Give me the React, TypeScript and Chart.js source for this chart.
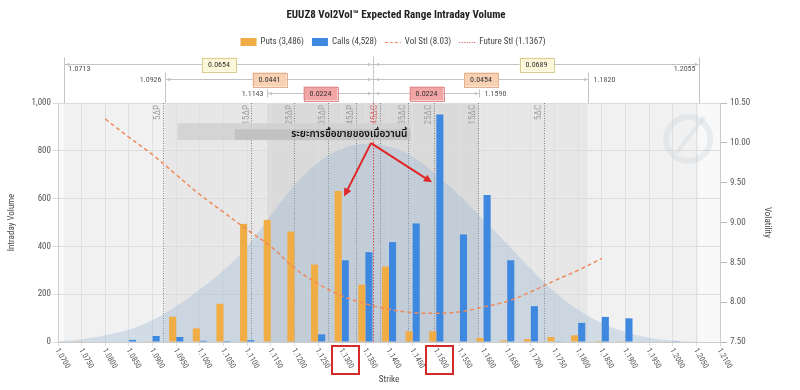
import React, { useEffect, useRef } from 'react';
import { Chart, registerables } from 'chart.js';

Chart.register(...registerables);

const FONT = '"Liberation Sans Narrow", "Roboto Condensed", Roboto, "Liberation Sans", Arial, sans-serif';
const THAI_FONT = '"Noto Sans Thai", "Noto Sans Thai UI", "Noto Sans", "DejaVu Sans", sans-serif';

// ---------------- data ----------------
const chartTitle = 'EUUZ8 Vol2Vol\u2122 Expected Range Intraday Volume';
const strikes = [1.07, 1.075, 1.08, 1.085, 1.09, 1.095, 1.1, 1.105, 1.11, 1.115, 1.12, 1.125, 1.13, 1.135, 1.14, 1.145, 1.15, 1.155, 1.16, 1.165, 1.17, 1.175, 1.18, 1.185, 1.19, 1.195, 1.2, 1.205];
const putVolume = [2, 3, 2, 0, 3, 106, 57, 160, 494, 511, 462, 324, 632, 240, 316, 45, 45, 0, 17, 7, 12, 21, 28, 4, 1, 0, 0, 0];
const callVolume = [0, 0, 0, 9, 25, 21, 5, 4, 8, 2, 2, 32, 342, 376, 418, 496, 952, 450, 615, 342, 150, 3, 80, 105, 99, 2, 3, 0];
const expectedDist = [3, 12, 28, 52, 92, 150, 220, 300, 400, 530, 655, 750, 808, 830, 818, 775, 700, 612, 510, 410, 305, 210, 135, 80, 42, 18, 6, 0];
const volStrikes = [1.08, 1.085, 1.09, 1.095, 1.1, 1.105, 1.11, 1.115, 1.12, 1.125, 1.13, 1.135, 1.14, 1.145, 1.15, 1.155, 1.16, 1.165, 1.17, 1.175, 1.18, 1.185];
const volSmile = [10.3, 10.07, 9.85, 9.6, 9.35, 9.13, 8.91, 8.7, 8.43, 8.23, 8.08, 7.98, 7.91, 7.87, 7.86, 7.88, 7.94, 8.01, 8.13, 8.27, 8.4, 8.55];
const xTickValues = [1.07, 1.075, 1.08, 1.085, 1.09, 1.095, 1.1, 1.105, 1.11, 1.115, 1.12, 1.125, 1.13, 1.135, 1.14, 1.145, 1.15, 1.155, 1.16, 1.165, 1.17, 1.175, 1.18, 1.185, 1.19, 1.195, 1.2, 1.205, 1.21];
const xTickLabels = ['1.0700', '1.0750', '1.0800', '1.0850', '1.0900', '1.0950', '1.1000', '1.1050', '1.1100', '1.1150', '1.1200', '1.1250', '1.1300', '1.1350', '1.1400', '1.1450', '1.1500', '1.1550', '1.1600', '1.1650', '1.1700', '1.1750', '1.1800', '1.1850', '1.1900', '1.1950', '1.2000', '1.2050', '1.2100'];
const highlightStrikes = [1.13, 1.15];

const putsTotal = 3486;
const callsTotal = 4528;
const volStl = 8.03;
const futureStl = 1.1367;

const rangeLow = [1.0713, 1.0926, 1.1143];
const rangeHigh = [1.2055, 1.182, 1.159];
const rangeDown = [0.0654, 0.0441, 0.0224];
const rangeUp = [0.0689, 0.0454, 0.0224];

const deltaLabels = ['5\u0394P', '15\u0394P', '25\u0394P', '35\u0394P', '45\u0394P', '45\u0394C', '35\u0394C', '25\u0394C', '15\u0394C', '5\u0394C'];
const deltaStrikes = [1.0922, 1.1109, 1.12, 1.127, 1.133, 1.1381, 1.144, 1.1495, 1.1588, 1.1728];

const noteText = '\u0E23\u0E30\u0E22\u0E30\u0E01\u0E32\u0E23\u0E0B\u0E37\u0E49\u0E2D\u0E02\u0E32\u0E22\u0E02\u0E2D\u0E07\u0E40\u0E21\u0E37\u0E48\u0E2D\u0E27\u0E32\u0E19\u0E19\u0E35\u0E49';
const noteOuterX = [1.0953, 1.1445];
const noteInnerX = [1.1074, 1.1445];
const noteOuterY = [845, 915];
const noteInnerY = [845, 890];
const noteTextAt = [1.1316, 868];
const arrowFrom = [1.1362, 832];
const arrowTips = [[1.1305, 609], [1.1491, 668]];
const watermarkAt = [1.2033, 849];

// ---------------- styles ----------------
const PUT_COLOR = '#f0ad45';
const CALL_COLOR = '#3f88df';
const VOL_COLOR = '#f08a5d';
const FUT_COLOR = '#d04848';
const bandColors = ['#f1f1f1', '#e7e7e7', '#dadada'];
const boxFill = ['#fdf7d9', '#f8d0b2', '#f2a5a5'];
const boxStroke = ['#d9cc92', '#e6b090', '#e09090'];
const rowY = [64, 79, 93];

function arrowHead(ctx: CanvasRenderingContext2D, x0: number, y0: number, x1: number, y1: number, size: number) {
  const ang = Math.atan2(y1 - y0, x1 - x0);
  ctx.beginPath();
  ctx.moveTo(x1, y1);
  ctx.lineTo(x1 - size * Math.cos(ang - 0.45), y1 - size * Math.sin(ang - 0.45));
  ctx.lineTo(x1 - size * Math.cos(ang + 0.45), y1 - size * Math.sin(ang + 0.45));
  ctx.closePath();
  ctx.fill();
}

const decor = {
  id: 'decor',
  beforeDraw(chart: any) {
    const { ctx, chartArea: a } = chart;
    const x = chart.scales.x;
    ctx.save();
    ctx.fillStyle = '#f9f9f9';
    ctx.fillRect(a.left, a.top, a.right - a.left, a.bottom - a.top);
    for (let i = 0; i < rangeLow.length; i++) {
      const l = x.getPixelForValue(rangeLow[i]);
      const r = x.getPixelForValue(rangeHigh[i]);
      ctx.fillStyle = bandColors[i];
      ctx.fillRect(l, a.top, r - l, a.bottom - a.top);
    }
    ctx.restore();
  },
  beforeDatasetsDraw(chart: any) {
    const { ctx, chartArea: a } = chart;
    const x = chart.scales.x;
    ctx.save();
    ctx.lineWidth = 1;
    ctx.setLineDash([1, 1.5]);
    ctx.strokeStyle = '#808080';
    deltaStrikes.forEach((s) => {
      const px = Math.round(x.getPixelForValue(s)) + 0.5;
      ctx.beginPath();
      ctx.moveTo(px, a.top);
      ctx.lineTo(px, a.bottom);
      ctx.stroke();
    });
    ctx.setLineDash([]);
    ctx.font = `9px ${FONT}`;
    ctx.textAlign = 'right';
    ctx.textBaseline = 'middle';
    deltaLabels.forEach((t, i) => {
      const px = x.getPixelForValue(deltaStrikes[i]);
      ctx.save();
      ctx.translate(px - 5, a.top + 2);
      ctx.rotate(-Math.PI / 2);
      ctx.fillStyle = i === 5 ? '#d88080' : '#a0a0a0';
      ctx.fillText(t, 0, 0);
      ctx.restore();
    });
    ctx.restore();
  },
  afterDatasetsDraw(chart: any) {
    const { ctx, chartArea: a } = chart;
    const x = chart.scales.x;
    const y = chart.scales.y;
    ctx.save();
    ctx.strokeStyle = FUT_COLOR;
    ctx.lineWidth = 1;
    ctx.setLineDash([1.5, 1.5]);
    const fx = Math.round(x.getPixelForValue(futureStl)) + 0.5;
    ctx.beginPath();
    ctx.moveTo(fx, a.top);
    ctx.lineTo(fx, a.bottom);
    ctx.stroke();
    ctx.setLineDash([]);

    const wx = x.getPixelForValue(watermarkAt[0]);
    const wy = y.getPixelForValue(watermarkAt[1]);
    ctx.strokeStyle = 'rgba(195,205,215,0.28)';
    ctx.lineWidth = 6;
    ctx.beginPath();
    ctx.arc(wx, wy, 22, 0, Math.PI * 2);
    ctx.stroke();
    ctx.lineWidth = 4;
    ctx.beginPath();
    ctx.moveTo(wx - 12, wy + 14);
    ctx.lineTo(wx + 16, wy - 22);
    ctx.stroke();

    const ox0 = x.getPixelForValue(noteOuterX[0]);
    const ox1 = x.getPixelForValue(noteOuterX[1]);
    const oy0 = y.getPixelForValue(noteOuterY[1]);
    const oy1 = y.getPixelForValue(noteOuterY[0]);
    ctx.fillStyle = 'rgba(208,208,208,0.85)';
    ctx.fillRect(ox0, oy0, ox1 - ox0, oy1 - oy0);
    const ix0 = x.getPixelForValue(noteInnerX[0]);
    const ix1 = x.getPixelForValue(noteInnerX[1]);
    const iy0 = y.getPixelForValue(noteInnerY[1]);
    const iy1 = y.getPixelForValue(noteInnerY[0]);
    ctx.fillStyle = 'rgba(192,192,192,0.9)';
    ctx.fillRect(ix0, iy0, ix1 - ix0, iy1 - iy0);
    ctx.fillStyle = '#111';
    ctx.font = `600 10px ${THAI_FONT}`;
    ctx.textAlign = 'center';
    ctx.textBaseline = 'middle';
    ctx.fillText(noteText, x.getPixelForValue(noteTextAt[0]), y.getPixelForValue(noteTextAt[1]));

    ctx.strokeStyle = '#e02626';
    ctx.fillStyle = '#e02626';
    ctx.lineWidth = 2;
    const ax = x.getPixelForValue(arrowFrom[0]);
    const ay = y.getPixelForValue(arrowFrom[1]);
    arrowTips.forEach(([sx, sv]) => {
      const tx = x.getPixelForValue(sx);
      const ty = y.getPixelForValue(sv);
      const ang = Math.atan2(ty - ay, tx - ax);
      ctx.beginPath();
      ctx.moveTo(ax, ay);
      ctx.lineTo(tx - 6 * Math.cos(ang), ty - 6 * Math.sin(ang));
      ctx.stroke();
      arrowHead(ctx, ax, ay, tx, ty, 9);
    });
    ctx.restore();
  },
  afterDraw(chart: any) {
    const { ctx, chartArea: a } = chart;
    const x = chart.scales.x;
    ctx.save();

    ctx.fillStyle = '#222';
    ctx.font = `bold 11px ${FONT}`;
    ctx.textAlign = 'center';
    ctx.textBaseline = 'middle';
    ctx.fillText(chartTitle, 396, 15);

    ctx.font = `9px ${FONT}`;
    const items = [
      { kind: 'box', color: PUT_COLOR, text: `Puts (${putsTotal.toLocaleString('en-US')})` },
      { kind: 'box', color: CALL_COLOR, text: `Calls (${callsTotal.toLocaleString('en-US')})` },
      { kind: 'dash', color: VOL_COLOR, text: `Vol Stl (${volStl.toFixed(2)})` },
      { kind: 'dot', color: FUT_COLOR, text: `Future Stl (${futureStl.toFixed(4)})` },
    ];
    const sw = 16, gap = 4, itemGap = 8;
    let total = 0;
    items.forEach((it, i) => { total += sw + gap + ctx.measureText(it.text).width + (i < items.length - 1 ? itemGap : 0); });
    let lx = 393 - total / 2;
    const ly = 42;
    ctx.textAlign = 'left';
    items.forEach((it) => {
      if (it.kind === 'box') {
        ctx.fillStyle = it.color;
        ctx.fillRect(lx, ly - 4, sw, 8);
      } else {
        ctx.strokeStyle = it.color;
        ctx.lineWidth = 1.2;
        ctx.setLineDash(it.kind === 'dash' ? [3, 2] : [1, 1.5]);
        ctx.beginPath();
        ctx.moveTo(lx, ly + 0.5);
        ctx.lineTo(lx + sw, ly + 0.5);
        ctx.stroke();
        ctx.setLineDash([]);
      }
      ctx.fillStyle = '#444';
      ctx.fillText(it.text, lx + sw + gap, ly);
      lx += sw + gap + ctx.measureText(it.text).width + itemGap;
    });

    const cx = Math.round(x.getPixelForValue(futureStl)) + 0.5;
    ctx.strokeStyle = '#c8c8c8';
    ctx.lineWidth = 1;
    ctx.beginPath();
    ctx.moveTo(cx, rowY[0] - 8);
    ctx.lineTo(cx, a.top);
    ctx.stroke();
    for (let i = 0; i < rangeLow.length; i++) {
      const l = Math.round(x.getPixelForValue(rangeLow[i])) + 0.5;
      const r = Math.round(x.getPixelForValue(rangeHigh[i])) + 0.5;
      const ry = rowY[i] + 0.5;
      ctx.strokeStyle = '#c4c4c4';
      ctx.fillStyle = '#c4c4c4';
      ctx.lineWidth = 1;
      ctx.beginPath();
      ctx.moveTo(l, ry);
      ctx.lineTo(r, ry);
      ctx.stroke();
      ctx.beginPath();
      if (i < 2) {
        ctx.moveTo(l, ry - 7); ctx.lineTo(l, a.top);
        ctx.moveTo(r, ry - 7); ctx.lineTo(r, a.top);
      } else {
        ctx.moveTo(l, ry - 4); ctx.lineTo(l, ry + 4);
        ctx.moveTo(r, ry - 4); ctx.lineTo(r, ry + 4);
      }
      ctx.stroke();
      arrowHead(ctx, l + 6, ry, l + 1, ry, 4);
      arrowHead(ctx, r - 6, ry, r - 1, ry, 4);
      arrowHead(ctx, cx - 8, ry, cx - 2, ry, 4);
      arrowHead(ctx, cx + 8, ry, cx + 2, ry, 4);

      ctx.font = `8px ${FONT}`;
      ctx.textBaseline = 'middle';
      ctx.textAlign = 'center';
      const boxes: [number, number][] = [[(l + cx) / 2, rangeDown[i]], [(r + cx) / 2, rangeUp[i]]];
      boxes.forEach(([bx, v]) => {
        const bw = 34, bh = 14;
        ctx.fillStyle = boxFill[i];
        ctx.fillRect(bx - bw / 2, ry - bh / 2, bw, bh);
        ctx.strokeStyle = boxStroke[i];
        ctx.strokeRect(Math.round(bx - bw / 2) + 0.5, Math.round(ry - bh / 2) + 0.5, bw, bh);
        ctx.fillStyle = '#333';
        ctx.fillText(v.toFixed(4), bx, ry + 0.5);
      });
      ctx.fillStyle = '#555';
      if (i === 0) {
        ctx.textAlign = 'left';
        ctx.fillText(rangeLow[i].toFixed(4), l + 4, ry + 4);
        ctx.textAlign = 'right';
        ctx.fillText(rangeHigh[i].toFixed(4), r - 4, ry + 4);
      } else {
        ctx.textAlign = 'right';
        ctx.fillText(rangeLow[i].toFixed(4), l - 4, ry);
        ctx.textAlign = 'left';
        ctx.fillText(rangeHigh[i].toFixed(4), r + 5, ry);
      }
    }

    ctx.font = `8px ${FONT}`;
    ctx.fillStyle = '#555';
    ctx.textAlign = 'left';
    ctx.textBaseline = 'middle';
    xTickValues.forEach((v, i) => {
      const px = x.getPixelForValue(v);
      ctx.save();
      ctx.translate(px - 1, a.bottom + 7);
      ctx.rotate(Math.PI / 3);
      ctx.fillText(xTickLabels[i], 0, 0);
      ctx.restore();
    });

    ctx.strokeStyle = '#d42a2a';
    ctx.lineWidth = 2;
    highlightStrikes.forEach((s) => {
      const px = x.getPixelForValue(s);
      ctx.strokeRect(Math.round(px - 10), a.bottom + 4, 27, 28);
    });
    ctx.restore();
  },
};

export default function App() {
  const ref = useRef<HTMLCanvasElement>(null);
  useEffect(() => {
    document.body.style.margin = '0';
    Chart.defaults.font.family = FONT;
    const chart = new Chart(ref.current as HTMLCanvasElement, {
      type: 'bar',
      data: {
        datasets: [
          {
            type: 'line',
            label: 'Expected',
            data: strikes.map((s, i) => ({ x: s, y: expectedDist[i] })),
            yAxisID: 'y',
            fill: 'origin',
            backgroundColor: 'rgba(150,180,212,0.33)',
            borderWidth: 0,
            borderColor: 'rgba(0,0,0,0)',
            pointRadius: 0,
            tension: 0.4,
            order: 3,
          } as any,
          {
            type: 'bar',
            label: 'Puts',
            data: strikes.map((s, i) => ({ x: s, y: putVolume[i] })),
            yAxisID: 'y',
            backgroundColor: PUT_COLOR,
            barPercentage: 1,
            categoryPercentage: 0.6,
            order: 2,
          },
          {
            type: 'bar',
            label: 'Calls',
            data: strikes.map((s, i) => ({ x: s, y: callVolume[i] })),
            yAxisID: 'y',
            backgroundColor: CALL_COLOR,
            barPercentage: 1,
            categoryPercentage: 0.6,
            order: 2,
          },
          {
            type: 'line',
            label: 'Vol Stl',
            data: volStrikes.map((s, i) => ({ x: s, y: volSmile[i] })),
            yAxisID: 'y1',
            borderColor: VOL_COLOR,
            borderWidth: 1.5,
            borderDash: [4, 3],
            pointRadius: 0,
            tension: 0.4,
            fill: false,
            order: 0,
          } as any,
        ],
      },
      options: {
        responsive: false,
        devicePixelRatio: 1,
        animation: false,
        layout: { padding: { top: 103, left: 0, right: 0, bottom: 0 } },
        plugins: { legend: { display: false }, title: { display: false }, tooltip: { enabled: false } },
        scales: {
          x: {
            type: 'linear',
            min: 1.07,
            max: 1.21,
            offset: false,
            afterBuildTicks: (s: any) => { s.ticks = xTickValues.map((v) => ({ value: v })); },
            afterFit: (s: any) => { s.height = 48; },
            ticks: { display: false },
            grid: { color: '#e0e0e0', tickLength: 4, offset: false },
            border: { color: '#cccccc' },
            title: { display: true, text: 'Strike', color: '#444', font: { size: 9 }, padding: { top: 0, bottom: 5 } },
          },
          y: {
            position: 'left',
            min: 0,
            max: 1000,
            ticks: { stepSize: 200, color: '#555', font: { size: 9 }, padding: 2 },
            grid: { color: '#dcdcdc', tickLength: 5 },
            border: { color: '#cccccc' },
            afterFit: (s: any) => { s.width = 58; },
            title: { display: true, text: 'Intraday Volume', color: '#444', font: { size: 9 }, padding: { top: 6, bottom: 0 } },
          },
          y1: {
            position: 'right',
            min: 7.5,
            max: 10.5,
            ticks: { stepSize: 0.5, color: '#555', font: { size: 9 }, padding: 3, callback: (v: any) => Number(v).toFixed(2) },
            grid: { drawOnChartArea: false, color: '#bbbbbb', tickLength: 7 },
            border: { color: '#cccccc' },
            afterFit: (s: any) => { s.width = 80; },
            title: { display: true, text: 'Volatility', color: '#444', font: { size: 9 }, padding: { top: 27, bottom: 0 } },
          },
        },
      } as any,
      plugins: [decor],
    });
    return () => chart.destroy();
  }, []);
  return (
    <div style={{ width: 800, height: 390, background: '#ffffff' }}>
      <canvas ref={ref} width={800} height={390} style={{ display: 'block' }} />
    </div>
  );
}
